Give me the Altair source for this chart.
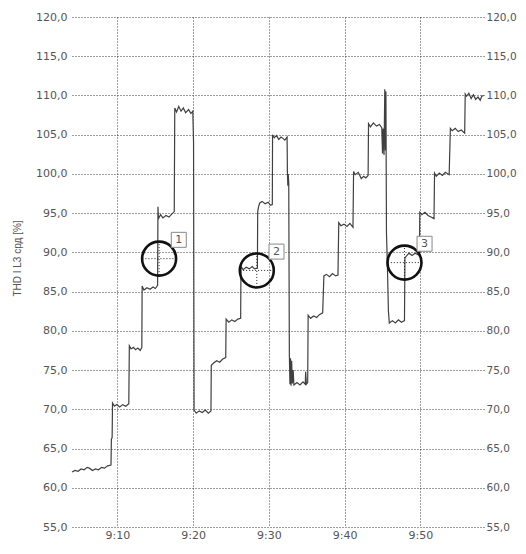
import altair as alt
import pandas as pd

# minutes after 9:00 and THD values
minutes = [4.0, 4.4, 4.8, 5.2, 5.6, 6.0, 6.3, 6.7, 7.1, 7.5, 7.9, 8.3, 8.7, 9.15,
           9.2, 9.3, 9.35, 9.6, 9.9, 10.3, 10.7, 11.1, 11.5,
           11.57, 11.8, 12.1, 12.4, 12.7, 13.0, 13.22,
           13.26, 13.5, 13.9, 14.3, 14.7, 15.0, 15.3,
           15.35, 15.42, 15.7, 16.0, 16.4, 16.8, 17.2, 17.5,
           17.57, 17.8, 18.1, 18.4, 18.7, 19.0, 19.4, 19.7, 19.95,
           20.05, 20.12, 20.4, 20.8, 21.2, 21.6, 22.0, 22.35,
           22.39, 22.7, 23.1, 23.5, 23.9, 24.3,
           24.35, 24.7, 25.1, 25.5, 25.9, 26.27,
           26.31, 26.6, 27.0, 27.4, 27.8, 28.1, 28.48,
           28.52, 28.65, 28.8, 29.1, 29.5, 29.9, 30.2, 30.45,
           30.48, 30.7, 31.0, 31.3, 31.6, 31.9, 32.1, 32.4,
           32.44, 32.5, 32.55, 32.62, 32.7, 32.78, 32.85, 32.92, 33.0, 33.1, 33.2, 33.3,
           33.7, 34.1, 34.5, 34.8, 34.85, 34.95, 35.12,
           35.18, 35.5, 35.9, 36.3, 36.7, 37.1,
           37.26, 37.6, 38.0, 38.4, 38.8, 39.12,
           39.22, 39.5, 39.9, 40.3, 40.7, 41.1,
           41.18, 41.4, 41.8, 42.2, 42.5, 42.8, 43.1,
           43.15, 43.4, 43.8, 44.2, 44.6, 44.9,
           45.0, 45.08, 45.2, 45.3, 45.38, 45.45, 45.52, 45.65, 45.78,
           45.9, 46.3, 46.7, 47.1, 47.5, 47.9,
           47.96, 48.2, 48.5, 48.9, 49.3, 49.7, 49.88,
           49.92, 50.2, 50.6, 51.0, 51.4, 51.8,
           51.87, 52.1, 52.5, 52.9, 53.3, 53.8,
           53.96, 54.2, 54.6, 55.0, 55.4, 55.85,
           55.92, 56.1, 56.4, 56.7, 57.0, 57.3, 57.6, 57.9, 58.1, 58.35]
thd = [62.0, 62.2, 62.1, 62.4, 62.3, 62.6, 62.5, 62.2, 62.4, 62.3, 62.6, 62.5, 62.8, 62.9,
       66.2, 66.4, 70.8, 70.4, 70.6, 70.3, 70.6, 70.4, 70.7,
       78.1, 77.7, 77.9, 77.6, 77.8, 77.5, 77.9,
       85.7, 85.2, 85.5, 85.3, 85.6, 85.4, 85.8,
       95.8, 94.3, 94.8, 94.4, 94.7, 94.5, 94.9, 95.2,
       108.4, 107.9, 108.6, 108.0, 108.4, 107.8, 108.2, 107.7, 108.0,
       104.0, 69.9, 69.5, 69.8, 69.6, 69.9, 69.5, 69.8,
       75.6, 75.9, 76.2, 76.0, 76.4, 76.6,
       81.5, 81.1, 81.4, 81.2, 81.5, 81.6,
       88.2, 87.8, 88.1, 87.9, 88.2, 87.9, 88.0,
       95.2, 95.9, 96.3, 96.5, 96.2, 96.4, 96.0, 96.1,
       105.0, 104.6, 104.9, 104.4, 104.7, 104.5, 104.3, 104.7,
       100.3, 98.5, 100.0, 98.8, 76.9, 73.2, 76.5, 73.0, 76.2, 73.3, 75.0, 73.1,
       73.4, 73.1, 73.5, 73.2, 74.8, 73.2, 73.4,
       82.0, 81.6, 81.9, 81.7, 82.1, 82.3,
       87.0, 87.2, 86.9, 87.3, 87.0, 87.1,
       93.8, 93.4, 93.6, 93.3, 93.7, 93.2,
       100.3, 99.9, 100.2, 99.4, 99.7, 99.5, 99.8,
       106.4, 106.0, 106.5, 106.1, 106.3, 105.9,
       102.6, 105.8, 102.4, 110.8, 103.0, 110.5, 92.6, 88.0, 82.5,
       81.0, 81.3, 81.0, 81.4, 81.1, 81.3,
       89.3, 89.6, 89.9, 89.6, 89.9, 89.7, 89.8,
       95.1, 94.8, 95.1, 94.7, 94.5, 94.3,
       100.1, 99.7, 100.1, 99.8, 100.2, 99.9,
       105.8, 105.5, 105.8, 105.4, 105.6, 105.2,
       110.2, 109.9, 110.3, 109.6, 110.1, 109.5, 109.8, 109.4, 109.9, 110.0]

circle_t = [15.5, 28.4, 47.9]
circle_v = [89.2, 87.7, 88.7]
label_t = [18.1, 31.0, 50.55]
label_v = [91.6, 90.1, 91.1]
label_txt = ["1", "2", "3"]

x_ticks = [10, 20, 30, 40, 50]
y_ticks = list(range(55, 121, 5))

df = pd.DataFrame({"t": minutes, "v": thd})
circles = pd.DataFrame({"t": circle_t, "v": circle_v,
                        "t1": [c - 2.2 for c in circle_t], "t2": [c + 2.2 for c in circle_t],
                        "v1": [c - 2.1 for c in circle_v], "v2": [c + 2.1 for c in circle_v]})
labels = pd.DataFrame({"t": label_t, "v": label_v, "txt": label_txt})

FONT = "DejaVu Sans"
GRID = "#3a3a3a"
yfmt = "replace(format(datum.value, '.1f'), '.', ',')"

xscale = alt.Scale(domain=[4, 58.4], nice=False, zero=False)
yscale = alt.Scale(domain=[55, 120], nice=False, zero=False)

xaxis = alt.Axis(values=x_ticks, labelExpr="'9:' + datum.value", grid=True,
                 gridDash=[1, 2], gridColor=GRID, gridOpacity=1, domain=False, ticks=False,
                 labelPadding=2, labelFont=FONT, labelFontSize=11, labelColor="#555", title=None)

left_axis = alt.Axis(values=y_ticks, labelExpr=yfmt, grid=True, gridDash=[1, 2],
                     gridColor=GRID, gridOpacity=1, domain=False, ticks=False,
                     labelPadding=5, labelFont=FONT, labelFontSize=11, labelColor="#555",
                     title="THD I L3 срд [%]", titleFont="Liberation Sans", titleFontSize=10,
                     titleFontWeight="normal", titleColor="#555", titleAngle=270,
                     titleX=-50, titleY=241, titleBaseline="bottom")
right_axis = alt.Axis(values=y_ticks, labelExpr=yfmt, grid=False, domain=False, ticks=False,
                      orient="right", labelPadding=2, labelFont=FONT, labelFontSize=10.5,
                      labelColor="#555", title=None)

X = alt.X("t:Q", scale=xscale, axis=xaxis)

line = alt.Chart(df).mark_line(color="#404040", strokeWidth=1.2, interpolate="linear").encode(
    x=X,
    y=alt.Y("v:Q", scale=yscale, axis=left_axis),
)

right = alt.Chart(df).mark_line(opacity=0).encode(
    x=X,
    y=alt.Y("v:Q", scale=yscale, axis=right_axis),
)

cross_h = alt.Chart(circles).mark_rule(color="#222", strokeDash=[1, 2], strokeWidth=1).encode(
    x=alt.X("t1:Q", scale=xscale, axis=xaxis), x2="t2:Q",
    y=alt.Y("v:Q", scale=yscale, axis=None))
cross_v = alt.Chart(circles).mark_rule(color="#222", strokeDash=[1, 2], strokeWidth=1).encode(
    x=X,
    y=alt.Y("v1:Q", scale=yscale, axis=None), y2="v2:Q")

rings = alt.Chart(circles).mark_point(shape="circle", size=1156, filled=False,
                                      color="#111", strokeWidth=2.6, opacity=1).encode(
    x=X,
    y=alt.Y("v:Q", scale=yscale, axis=None))

boxes = alt.Chart(labels).mark_point(shape="square", size=225, filled=True, fill="white",
                                     stroke="#888", strokeWidth=1, opacity=1, fillOpacity=1).encode(
    x=X,
    y=alt.Y("v:Q", scale=yscale, axis=None))

texts = alt.Chart(labels).mark_text(font=FONT, fontSize=11, color="#555").encode(
    x=X,
    y=alt.Y("v:Q", scale=yscale, axis=None),
    text="txt:N")

chart = alt.layer(line, right, cross_h, cross_v, rings, boxes, texts).resolve_axis(
    y="independent"
).properties(
    width=412, height=510,
    autosize=alt.AutoSizeParams(type="none"),
    padding={"left": 64, "top": 9, "right": 34, "bottom": 14},
).configure_view(stroke=None)

chart.save("out.html", embed_options={"renderer": "svg", "actions": False})
